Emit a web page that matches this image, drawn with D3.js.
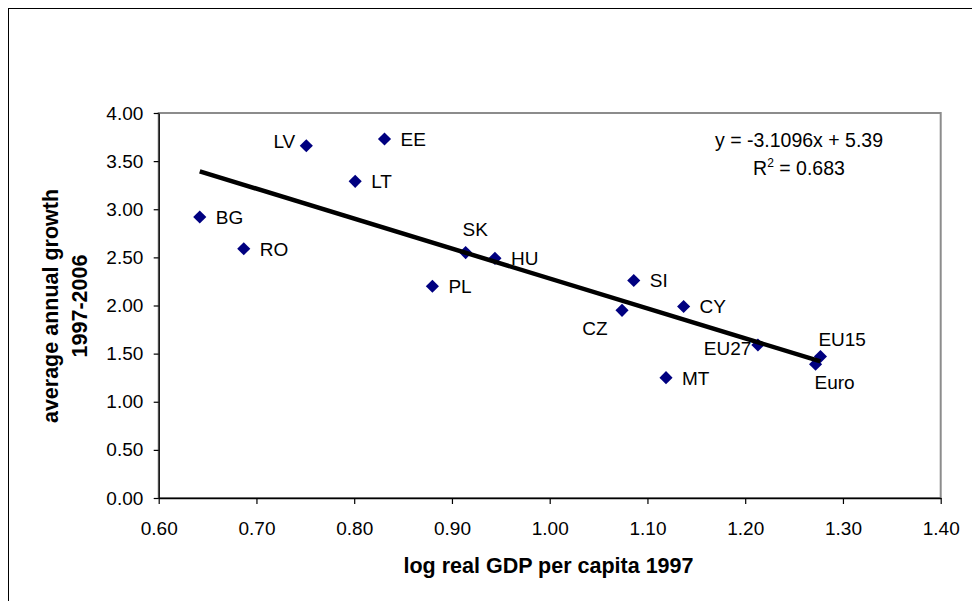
<!DOCTYPE html>
<html><head><meta charset="utf-8">
<script src="https://cdn.jsdelivr.net/npm/d3@7"></script>
<style>
body{margin:0;background:#fff}
text{font-family:"Liberation Sans",Arial,sans-serif;fill:#000}
</style>
</head><body>
<svg id="c" width="972" height="601"></svg>
<script>
// ---- data ----
const countries  = ["BG","RO","LV","LT","EE","PL","SK","HU","SI","CZ","CY","MT","EU27","EU15","Euro"];
const logGdp1997 = [0.642,0.687,0.751,0.801,0.831,0.880,0.914,0.944,1.086,1.074,1.137,1.119,1.213,1.277,1.272];
const avgGrowth  = [2.92,2.59,3.66,3.29,3.73,2.20,2.55,2.49,2.26,1.95,1.99,1.25,1.59,1.47,1.39];
const trendSlope = -3.1096, trendIntercept = 5.39, rSquared = 0.683;
const xTicks = [0.60,0.70,0.80,0.90,1.00,1.10,1.20,1.30,1.40];
const yTicks = [0.00,0.50,1.00,1.50,2.00,2.50,3.00,3.50,4.00];
const xTitle = "log real GDP per capita 1997";
const yTitleLines = ["average annual growth","1997-2006"];

// ---- layout (label placement relative to marker) ----
const labelPlace = {
  LV:{a:"end",dx:-11,dy:-5},
  SK:{a:"middle",dx:9.5,dy:-23.7},
  CZ:{a:"middle",dx:-27,dy:17.5},
  EU27:{a:"end",dx:-6.6,dy:3},
  EU15:{a:"middle",dx:21.7,dy:-17.4},
  Euro:{a:"middle",dx:19,dy:18}
};
const defPlace = {a:"start",dx:16,dy:0};

const svg = d3.select("#c");
const L=158.7, R=940.7, T=113, B=498;
const x = d3.scaleLinear().domain([0.6,1.4]).range([L,R]);
const y = d3.scaleLinear().domain([0,4]).range([B,T]);
const fmt = d3.format(".2f");

// outer frame
svg.append("rect").attr("x",8.5).attr("y",8.5).attr("width",980).attr("height",610)
  .attr("fill","none").attr("stroke","#000").attr("stroke-width",1);

// plot area border (grey)
svg.append("rect").attr("x",L).attr("y",T).attr("width",R-L).attr("height",B-T)
  .attr("fill","none").attr("stroke","#8c8c8c").attr("stroke-width",2);

// axes
const xAxis = svg.append("g").attr("transform",`translate(0,${B})`)
  .call(d3.axisBottom(x).tickValues(xTicks).tickFormat(fmt).tickSize(6).tickSizeOuter(0));
xAxis.selectAll("text").attr("y",24).attr("dy","0.71em");
const yAxis = svg.append("g").attr("transform",`translate(${L},0)`)
  .call(d3.axisLeft(y).tickValues(yTicks).tickFormat(fmt).tickSize(5).tickSizeOuter(0));
yAxis.selectAll("text").attr("x",-15.4);
svg.selectAll(".tick text").style("font-size","19px").style("font-family",'"Liberation Sans",Arial,sans-serif').attr("fill","#000");
svg.selectAll(".domain").attr("stroke","#000").attr("stroke-width",1.3);
svg.selectAll(".tick line").attr("stroke","#000").attr("stroke-width",1.2);

// axis titles
svg.append("text").attr("x",548.5).attr("y",573.3).attr("text-anchor","middle")
  .style("font-size","21.5px").style("font-weight","bold").text(xTitle);
const yt = svg.append("text").attr("transform","translate(0,306) rotate(-90)")
  .attr("text-anchor","middle").style("font-size","21.5px").style("font-weight","bold");
yt.append("tspan").attr("x",0).attr("y",58).text(yTitleLines[0]);
yt.append("tspan").attr("x",0).attr("y",87).text(yTitleLines[1]);

// points
const pts = countries.map((c,i)=>({c, gx:logGdp1997[i], gy:avgGrowth[i]}));
const diamond = d3.symbol().type(d3.symbolDiamond2).size(110);
svg.append("g").selectAll("path").data(pts).join("path")
  .attr("d",diamond).attr("transform",d=>`translate(${x(d.gx)},${y(d.gy)})`)
  .attr("fill","#000080");

// labels
svg.append("g").selectAll("text").data(pts).join("text")
  .each(function(d){
    const p = labelPlace[d.c]||defPlace;
    d3.select(this).attr("x",x(d.gx)+p.dx).attr("y",y(d.gy)+p.dy)
      .attr("dy","0.36em").attr("text-anchor",p.a);
  })
  .style("font-size","19px").text(d=>d.c);

// trend line
const xmin = d3.min(logGdp1997), xmax = d3.max(logGdp1997);
svg.append("line")
  .attr("x1",x(xmin)).attr("y1",y(trendSlope*xmin+trendIntercept))
  .attr("x2",x(xmax)).attr("y2",y(trendSlope*xmax+trendIntercept))
  .attr("stroke","#000").attr("stroke-width",4.5);

// equation
svg.append("text").attr("x",799).attr("y",147.3).attr("text-anchor","middle")
  .style("font-size","19.5px")
  .text(`y = ${trendSlope}x + ${trendIntercept}`);
const r2 = svg.append("text").attr("x",799).attr("y",175).attr("text-anchor","middle").style("font-size","19.5px");
r2.append("tspan").text("R");
r2.append("tspan").attr("dy",-8).style("font-size","12px").text("2");
r2.append("tspan").attr("dy",8).text(` = ${rSquared}`);
</script>
</body></html>
